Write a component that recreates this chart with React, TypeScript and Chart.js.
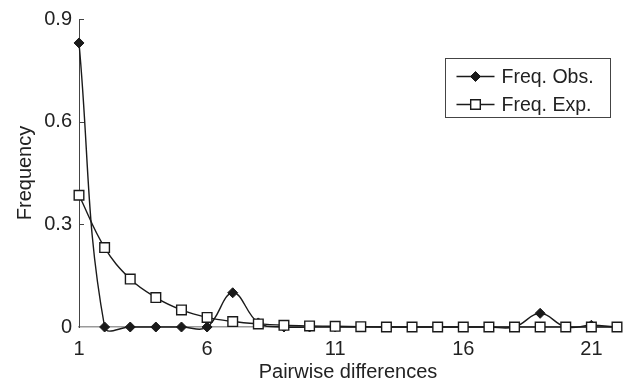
import React, { useEffect, useRef } from "react";
import { Chart, registerables } from "chart.js";

Chart.register(...registerables);

const categories = ["1","2","3","4","5","6","7","8","9","10","11","12","13","14","15","16","17","18","19","20","21","22"];
const freqObs = [0.83, 0, 0, 0, 0, 0, 0.1, 0.012, 0, 0, 0, 0, 0, 0, 0, 0, 0, 0, 0.04, 0, 0.005, 0];
const freqExp = [0.385, 0.232, 0.14, 0.086, 0.05, 0.028, 0.016, 0.009, 0.005, 0.003, 0.002, 0.001, 0, 0, 0, 0, 0, 0, 0, 0, 0, 0];
const yTicks = [0, 0.3, 0.6, 0.9];
const seriesNames = ["Freq. Obs.", "Freq. Exp."];
const xTitle = "Pairwise differences";
const yTitle = "Frequency";

const FONT = "'Liberation Sans', Arial, sans-serif";
const INK = "#1a1a1a";

const innerTicks = {
  id: "innerTicks",
  afterDatasetsDraw(chart: any) {
    const ctx = chart.ctx;
    const y = chart.scales.y;
    const left = chart.chartArea.left;
    ctx.save();
    ctx.strokeStyle = "#444";
    ctx.lineWidth = 1;
    yTicks.forEach((v) => {
      if (v === 0) return;
      const py = Math.round(y.getPixelForValue(v)) + 0.5;
      ctx.beginPath();
      ctx.moveTo(left, py);
      ctx.lineTo(left + 5, py);
      ctx.stroke();
    });
    ctx.restore();
  },
};

const boxLegend = {
  id: "boxLegend",
  afterDraw(chart: any) {
    const ctx = chart.ctx;
    const { right, top } = chart.chartArea;
    const bx = right - 171.5;
    const by = top + 39.5;
    const bw = 165;
    const bh = 59;
    ctx.save();
    ctx.fillStyle = "#fff";
    ctx.fillRect(bx, by, bw, bh);
    ctx.strokeStyle = "#444";
    ctx.lineWidth = 1;
    ctx.strokeRect(bx, by, bw, bh);
    const rows = [by + 18, by + 46];
    chart.data.datasets.forEach((ds: any) => {
      const ry = rows[ds.legendRow];
      ctx.strokeStyle = INK;
      ctx.lineWidth = 1.4;
      ctx.beginPath();
      ctx.moveTo(bx + 11, ry);
      ctx.lineTo(bx + 49, ry);
      ctx.stroke();
      const cx = bx + 30;
      ctx.beginPath();
      if (ds.pointStyle === "rectRot") {
        const r = ds.pointRadius;
        ctx.moveTo(cx - r, ry);
        ctx.lineTo(cx, ry - r);
        ctx.lineTo(cx + r, ry);
        ctx.lineTo(cx, ry + r);
        ctx.closePath();
      } else {
        const s = Math.SQRT1_2 * ds.pointRadius;
        ctx.rect(cx - s, ry - s, 2 * s, 2 * s);
      }
      ctx.fillStyle = ds.pointBackgroundColor;
      ctx.fill();
      ctx.lineWidth = ds.pointBorderWidth;
      ctx.strokeStyle = ds.pointBorderColor;
      ctx.stroke();
      ctx.fillStyle = "#222";
      ctx.font = `19.5px ${FONT}`;
      ctx.textBaseline = "middle";
      ctx.textAlign = "left";
      ctx.fillText(ds.label, bx + 56, ry + 1);
    });
    ctx.restore();
  },
};

export default function App() {
  const ref = useRef<HTMLCanvasElement | null>(null);
  useEffect(() => {
    document.body.style.margin = "0";
    const canvas = ref.current;
    if (!canvas) return;
    const chart = new Chart(canvas, {
      type: "line",
      data: {
        labels: categories,
        datasets: [
          {
            label: seriesNames[0],
            legendRow: 0,
            data: freqObs,
            borderColor: INK,
            borderWidth: 1.4,
            tension: 0.4,
            pointStyle: "rectRot",
            pointRadius: 5,
            pointBackgroundColor: INK,
            pointBorderColor: INK,
            pointBorderWidth: 1,
            clip: 20,
            order: 2,
          } as any,
          {
            label: seriesNames[1],
            legendRow: 1,
            data: freqExp,
            borderColor: INK,
            borderWidth: 1.4,
            tension: 0.4,
            pointStyle: "rect",
            pointRadius: 6.8,
            pointBackgroundColor: "#fff",
            pointBorderColor: INK,
            pointBorderWidth: 1.4,
            clip: 20,
            order: 1,
          } as any,
        ],
      },
      options: {
        responsive: false,
        animation: false,
        elements: { line: { capBezierPoints: false } },
        layout: { padding: { top: 15, right: 14, left: 0, bottom: 0 } },
        plugins: {
          legend: { display: false },
          tooltip: { enabled: false },
        },
        scales: {
          x: {
            type: "category",
            offset: false,
            grid: { display: false, drawTicks: false },
            border: { display: true, color: "#9a9a9a", width: 1.5 },
            ticks: {
              autoSkip: false,
              maxRotation: 0,
              padding: 10,
              color: "#222",
              font: { family: FONT, size: 20 },
              callback: (_v: any, i: number) => (i % 5 === 0 ? categories[i] : ""),
            },
            title: {
              display: true,
              text: xTitle,
              color: "#222",
              font: { family: FONT, size: 20 },
              padding: { top: 0, bottom: 2 },
            },
            afterFit: (s: any) => {
              s.height = 59;
            },
          },
          y: {
            min: 0,
            max: 0.9,
            grid: { display: false, drawTicks: false },
            border: { display: true, color: "#444", width: 1 },
            afterBuildTicks: (s: any) => {
              s.ticks = yTicks.map((v) => ({ value: v }));
            },
            ticks: {
              padding: 7,
              color: "#222",
              font: { family: FONT, size: 20 },
              callback: (v: any) => String(v),
            },
            title: {
              display: true,
              text: yTitle,
              color: "#222",
              font: { family: FONT, size: 20 },
              padding: { top: 13, bottom: 0 },
            },
            afterFit: (s: any) => {
              s.width = 79;
            },
          },
        },
      },
      plugins: [innerTicks, boxLegend],
    });
    return () => chart.destroy();
  }, []);
  return (
    <div style={{ width: 631, height: 386 }}>
      <canvas ref={ref} width={631} height={386} />
    </div>
  );
}
